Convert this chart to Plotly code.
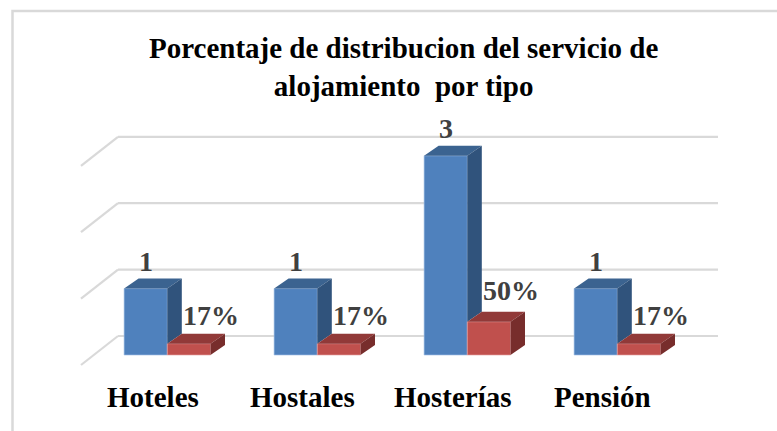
import plotly.graph_objects as go

# ---------------- data ----------------
categories = ["Hoteles", "Hostales", "Hosterías", "Pensión"]
cantidad = [1, 1, 3, 1]
porcentaje = [0.17, 0.17, 0.50, 0.17]
cantidad_labels = ["1", "1", "3", "1"]
porcentaje_labels = ["17%", "17%", "50%", "17%"]
grid_values = [0, 1, 2, 3]
title_text = "<b>Porcentaje de distribucion del servicio de<br>alojamiento\u00a0 por tipo</b>"

# ---------------- layout constants ----------------
W, H = 777, 431
XPX, YPX = 150.0, 66.4          # pixels per category step / per value unit
X0PX, Y0PX = 167.3, 336.0       # pixel of first group centre / value 0 on back wall
x_range = [-X0PX / XPX, (W - X0PX) / XPX]
y_range = [(Y0PX - H) / YPX, Y0PX / YPX]

bw = 43.2 / XPX                 # bar width (category units)
base = -19.0 / YPX              # baseline of bar front plane
ddx, ddy = 14.5 / XPX, 10.0 / YPX   # bar depth offset
wall_x0, wall_x1 = (118 - X0PX) / XPX, (718 - X0PX) / XPX
side_dx, side_dy = -37.0 / XPX, -29.0 / YPX

BLUE, BLUE_TOP, BLUE_SIDE = "#4f81bd", "#3b6390", "#30537c"
RED, RED_TOP, RED_SIDE = "#c0504d", "#913938", "#772d2c"
GRID = "#d9d9d9"
FONT = "Liberation Serif"

xs = list(range(len(categories)))

fig = go.Figure()

# gridlines on back wall + side wall diagonals (as shapes below the traces)
shapes = []
for v in grid_values:
    shapes.append(dict(type="line", xref="x", yref="y", x0=wall_x0, x1=wall_x1, y0=v, y1=v,
                       line=dict(color=GRID, width=2.2), layer="below"))
    shapes.append(dict(type="line", xref="x", yref="y", x0=wall_x0 + side_dx, x1=wall_x0,
                       y0=v + side_dy, y1=v, line=dict(color=GRID, width=2.2), layer="below"))

# front faces as bars
fig.add_trace(go.Bar(x=xs, y=cantidad, base=base, width=bw, offset=-bw,
                     marker=dict(color=BLUE, line=dict(width=0.8, color="rgba(160,190,230,0.8)")),
                     showlegend=False, hoverinfo="skip"))
fig.add_trace(go.Bar(x=xs, y=porcentaje, base=base, width=bw, offset=0,
                     marker=dict(color=RED, line=dict(width=0.8, color="rgba(230,160,160,0.8)")),
                     showlegend=False, hoverinfo="skip"))


def poly_trace(polys, color):
    px_, py_ = [], []
    for p in polys:
        for (a, b) in p:
            px_.append(a)
            py_.append(b)
        px_.append(p[0][0]); py_.append(p[0][1])
        px_.append(None); py_.append(None)
    return go.Scatter(x=px_, y=py_, mode="lines", fill="toself", fillcolor=color,
                      line=dict(width=0, color=color), hoverinfo="skip", showlegend=False)


blue_top, blue_side, red_top, red_side = [], [], [], []
for i, v, r in zip(xs, cantidad, porcentaje):
    top = base + v
    rtop = base + r
    blue_top.append([(i - bw, top), (i, top), (i + ddx, top + ddy), (i - bw + ddx, top + ddy)])
    blue_side.append([(i, rtop), (i, top), (i + ddx, top + ddy), (i + ddx, rtop + ddy)])
    red_top.append([(i, rtop), (i + bw, rtop), (i + bw + ddx, rtop + ddy), (i + ddx, rtop + ddy)])
    red_side.append([(i + bw, base), (i + bw, rtop), (i + bw + ddx, rtop + ddy), (i + bw + ddx, base + ddy)])

fig.add_trace(poly_trace(blue_top, BLUE_TOP))
fig.add_trace(poly_trace(blue_side, BLUE_SIDE))
fig.add_trace(poly_trace(red_top, RED_TOP))
fig.add_trace(poly_trace(red_side, RED_SIDE))

annotations = []
lab_font = dict(family=FONT, size=28, color="#404040")
for i, v, r, lv, lr in zip(xs, cantidad, porcentaje, cantidad_labels, porcentaje_labels):
    annotations.append(dict(x=i - bw / 2, y=base + v + ddy + 17.5 / YPX, text="<b>" + lv + "</b>",
                            showarrow=False, xanchor="center", yanchor="middle", font=lab_font))
    annotations.append(dict(x=i + bw, y=base + r + ddy + (16 + 11 * r) / YPX, text="<b>" + lr + "</b>",
                            showarrow=False, xanchor="center", yanchor="middle", font=lab_font))
    annotations.append(dict(x=i - 14.5 / XPX, y=(Y0PX - 397) / YPX, text="<b>" + categories[i] + "</b>",
                            showarrow=False, xanchor="center", yanchor="middle",
                            font=dict(family=FONT, size=29, color="#000000")))

annotations.append(dict(x=403 / W, y=1 - 66.5 / H, xref="paper", yref="paper",
                        text=title_text, showarrow=False, xanchor="center", yanchor="middle",
                        font=dict(family=FONT, size=29, color="#000000")))

shapes.append(dict(type="rect", xref="paper", yref="paper",
                   x0=12.5 / W, x1=1.05, y0=-0.05, y1=1 - 11 / H,
                   line=dict(color="#d9d9d9", width=2.5), fillcolor="rgba(0,0,0,0)", layer="below"))

fig.update_layout(
    width=W, height=H,
    margin=dict(l=0, r=0, t=0, b=0),
    paper_bgcolor="white", plot_bgcolor="white",
    xaxis=dict(range=x_range, visible=False, fixedrange=True),
    yaxis=dict(range=y_range, visible=False, fixedrange=True),
    annotations=annotations,
    shapes=shapes,
)

fig.write_html("out.html", config={"displayModeBar": False},
               post_script="document.body.style.margin='0';document.body.style.overflow='hidden';")
